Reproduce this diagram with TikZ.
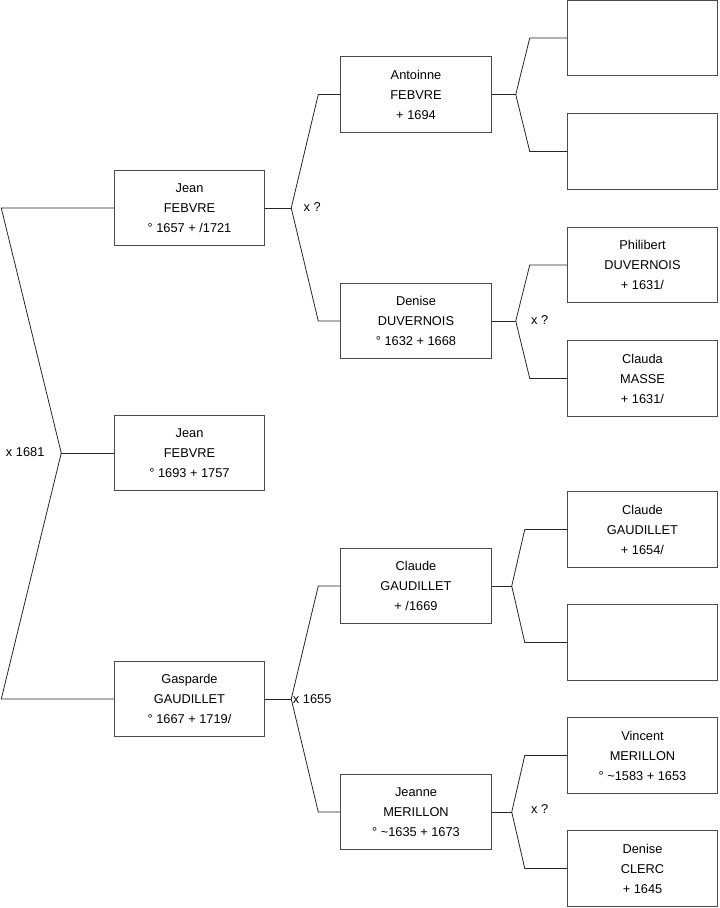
\documentclass[tikz,border=0pt]{standalone}
\usepackage{fontspec}
\setmainfont{Liberation Sans}
\usetikzlibrary{calc}

\begin{document}
\begin{tikzpicture}[x=0.75pt, y=-0.75pt, line width=0.6pt,
  every node/.style={font=\fontsize{9.6}{15}\selectfont},
  person/.style={draw=black!70, align=center, inner sep=0pt, minimum width=113pt, minimum height=56.5pt},
  link/.style={draw=black!85}]
  \useasboundingbox (0,0) rectangle (719,908);
  % generation 0
  \node[person] (jean) at (189.5,453) {Jean\\FEBVRE\\° 1693 + 1757};
  % generation 1
  \node[person] (jeanpere) at (189.5,208) {Jean\\FEBVRE\\° 1657 + /1721};
  \node[person] (gasparde) at (189.5,699) {Gasparde\\GAUDILLET\\° 1667 + 1719/};
  % generation 2
  \node[person] (antoinne) at (416,94.5) {Antoinne\\FEBVRE\\+ 1694};
  \node[person] (denise) at (416,321) {Denise\\DUVERNOIS\\° 1632 + 1668};
  \node[person] (claude) at (416,586) {Claude\\GAUDILLET\\+ /1669};
  \node[person] (jeanne) at (416,812) {Jeanne\\MERILLON\\° \textasciitilde1635 + 1673};
  % generation 3
  \node[person] (antoinnep) at (642.5,38) {};
  \node[person] (antoinnem) at (642.5,151.5) {};
  \node[person] (philibert) at (642.5,265) {Philibert\\DUVERNOIS\\+ 1631/};
  \node[person] (clauda) at (642.5,378.5) {Clauda\\MASSE\\+ 1631/};
  \node[person] (claudep) at (642.5,529.5) {Claude\\GAUDILLET\\+ 1654/};
  \node[person] (claudem) at (642.5,642.5) {};
  \node[person] (vincent) at (642.5,755.5) {Vincent\\MERILLON\\° \textasciitilde1583 + 1653};
  \node[person] (deniseclerc) at (642.5,868.5) {Denise\\CLERC\\+ 1645};

  % couples
  \coordinate (j0) at ($(jean.west)+(-52.5,0)$);
  \draw[link] (jean.west) -- (j0);
  \draw[link] (jeanpere.west) -- ++(-112.5,0) -- (j0) -- ($(gasparde.west)+(-112.5,0)$) -- (gasparde.west);
  \node[anchor=east] (m0) at ($(j0)+(-12,-1)$) {x 1681};

  \coordinate (j1) at ($(jeanpere.east)+(26,0)$);
  \draw[link] (jeanpere.east) -- (j1);
  \draw[link] (antoinne.west) -- ++(-22,0) -- (j1) -- ($(denise.west)+(-22,0)$) -- (denise.west);
  \node (m1) at ($(j1)+(21,-1)$) {x ?};

  \coordinate (j2) at ($(gasparde.east)+(26,0)$);
  \draw[link] (gasparde.east) -- (j2);
  \draw[link] (claude.west) -- ++(-22,0) -- (j2) -- ($(jeanne.west)+(-22,0)$) -- (jeanne.west);
  \node[anchor=west, inner sep=1pt] (m2) at (j2) {x 1655};

  \coordinate (j3) at ($(antoinne.east)+(24,0)$);
  \draw[link] (antoinne.east) -- (j3);
  \draw[link] (antoinnep.west) -- ++(-37,0) -- (j3) -- ($(antoinnem.west)+(-37,0)$) -- (antoinnem.west);

  \coordinate (j4) at ($(denise.east)+(24,0)$);
  \draw[link] (denise.east) -- (j4);
  \draw[link] (philibert.west) -- ++(-37,0) -- (j4) -- ($(clauda.west)+(-37,0)$) -- (clauda.west);
  \node (m4) at ($(j4)+(24,-1)$) {x ?};

  \coordinate (j5) at ($(claude.east)+(20,0)$);
  \draw[link] (claude.east) -- (j5);
  \draw[link] (claudep.west) -- ++(-42,0) -- (j5) -- ($(claudem.west)+(-42,0)$) -- (claudem.west);

  \coordinate (j6) at ($(jeanne.east)+(20,0)$);
  \draw[link] (jeanne.east) -- (j6);
  \draw[link] (vincent.west) -- ++(-42,0) -- (j6) -- ($(deniseclerc.west)+(-42,0)$) -- (deniseclerc.west);
  \node (m6) at ($(j6)+(28,-3)$) {x ?};
\end{tikzpicture}
\end{document}
